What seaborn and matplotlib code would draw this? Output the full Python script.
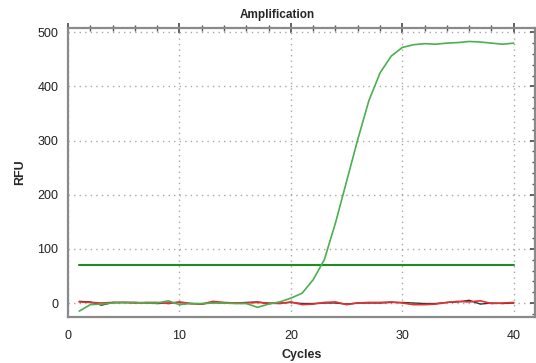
import numpy as np
import pandas as pd
import matplotlib
matplotlib.use("Agg")
import matplotlib.pyplot as plt
from matplotlib.ticker import MultipleLocator
import seaborn as sns

cycles = list(range(1, 41))

sample_green = [-15, -3, -2, 0, 1, 1, 0, 0, 4, -3,
                -1, -1, 0, 0, -1, -1, -8, -2, 2, 9,
                18, 43, 80, 148, 225, 302, 374, 425, 456, 472,
                477, 479, 478, 480, 481, 483, 482, 480, 478, 480]

sample_black = [3, 2, -4, 1, 1, 1, 0, -1, 0, 1,
                -1, -2, 1, 0, 0, 1, 2, -1, 0, 1,
                -1, -1, 0, 0, -2, 0, 0, 0, 1, 1,
                0, -1, -1, 1, 2, 5, -2, 0, -1, 0]

sample_red = [2, 1, 0, 1, 1, 0, 1, 1, -1, 2,
              -1, -2, 3, 1, 0, 0, 1, 0, -1, 2,
              -3, -2, 1, 2, -3, 0, 1, 1, 2, 0,
              -3, -3, -2, 1, 3, 2, 4, -1, 0, 1]

threshold = 70

sns.set_style("white")
plt.rcParams["font.family"] = ["Liberation Sans", "DejaVu Sans"]

fig = plt.figure(figsize=(5.36, 3.63), dpi=100)
ax = fig.add_axes([0.127, 0.128, 0.871, 0.795])

df = pd.DataFrame({"Cycles": cycles, "green": sample_green,
                   "black": sample_black, "red": sample_red,
                   "thr": [threshold] * len(cycles)})

sns.lineplot(data=df, x="Cycles", y="thr", ax=ax, color="#1e8c1e", linewidth=1.5)
sns.lineplot(data=df, x="Cycles", y="black", ax=ax, color="#333333", linewidth=1.0)
sns.lineplot(data=df, x="Cycles", y="red", ax=ax, color="#e53030", linewidth=1.2)
sns.lineplot(data=df, x="Cycles", y="green", ax=ax, color="#4caf50", linewidth=1.2)

ax.set_xlim(0, 41.9)
ax.set_ylim(-25, 508)

ax.xaxis.set_major_locator(MultipleLocator(10))
ax.xaxis.set_minor_locator(MultipleLocator(2))
ax.yaxis.set_major_locator(MultipleLocator(100))
ax.yaxis.set_minor_locator(MultipleLocator(20))

ax.grid(True, which="major", color="#a8a8a8", linestyle=(0, (1, 3)), linewidth=1.0)

for s in ax.spines.values():
    s.set_color("#8a8a8a")
    s.set_linewidth(1.6)

ax.tick_params(which="major", direction="inout", length=7, width=1.3, color="#555555",
               labelsize=9, labelcolor="#222222", top=True, right=True)
ax.tick_params(which="minor", direction="inout", length=4, width=1.0, color="#555555",
               top=True, right=True)
ax.tick_params(axis="x", which="major", pad=6)
ax.tick_params(axis="x", which="both", top=True)
ax.tick_params(axis="y", which="both", right=True)

ax.set_title("Amplification", fontsize=8.5, fontweight="bold", pad=7, x=0.4475)
ax.set_xlabel("Cycles", fontsize=9, fontweight="bold", labelpad=5)
ax.set_ylabel("RFU", fontsize=9, fontweight="bold", labelpad=8)

fig.savefig("out.png", dpi=100)
